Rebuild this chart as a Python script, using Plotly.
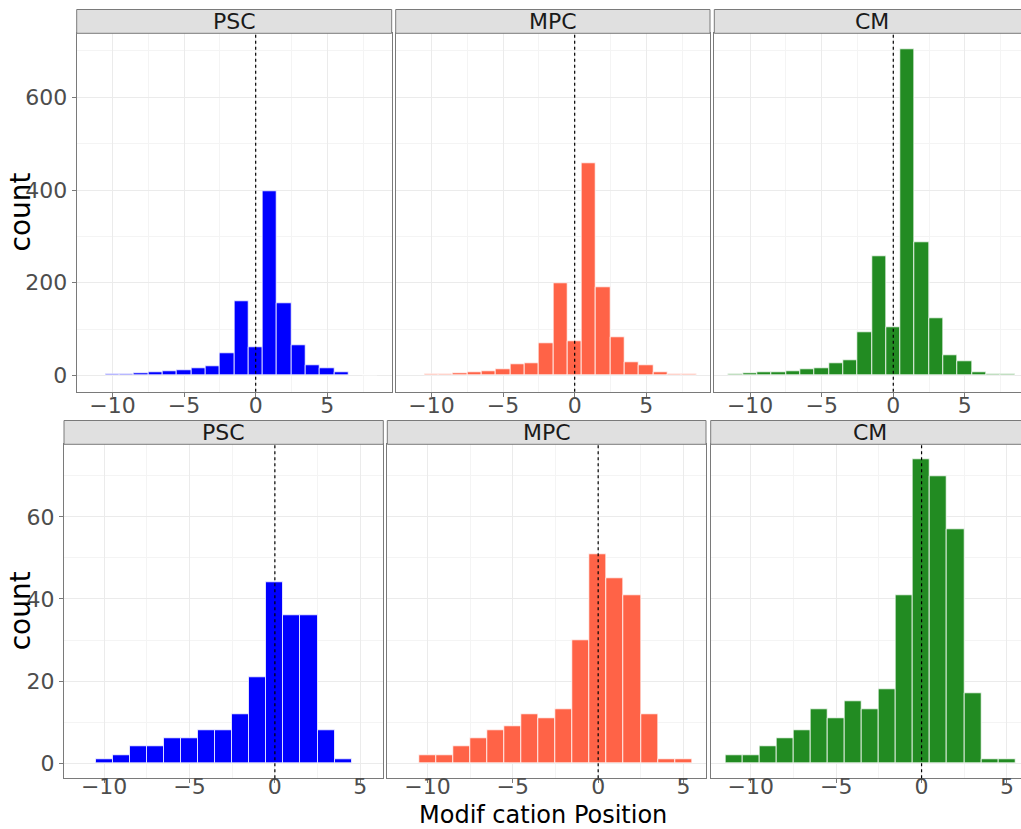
import plotly.graph_objects as go

# ---------------- data ----------------
panels = ["PSC", "MPC", "CM"]

top_psc_pos = list(range(-10, 7)) + [8]
top_psc_cnt = [3, 3, 4, 6, 8, 10, 15, 20, 47, 159, 60, 397, 155, 65, 21, 16, 6, 1]

top_mpc_pos = list(range(-10, 9))
top_mpc_cnt = [2, 2, 4, 6, 9, 14, 24, 27, 70, 198, 73, 457, 191, 82, 29, 22, 7, 2, 2]

top_cm_pos = list(range(-11, 9))
top_cm_cnt = [2, 5, 6, 6, 9, 14, 16, 27, 33, 92, 258, 104, 703, 288, 123, 43, 30, 7, 2, 2]

bot_psc_pos = list(range(-10, 5))
bot_psc_cnt = [1, 2, 4, 4, 6, 6, 8, 8, 12, 21, 44, 36, 36, 8, 1]

bot_mpc_pos = list(range(-10, 6))
bot_mpc_cnt = [2, 2, 4, 6, 8, 9, 12, 11, 13, 30, 51, 45, 41, 12, 1, 1]

bot_cm_pos = list(range(-11, 6))
bot_cm_cnt = [2, 2, 4, 6, 8, 13, 11, 15, 13, 18, 41, 74, 70, 57, 17, 1, 1]

x_ticks = [-10, -5, 0, 5]
x_title = "Modif cation Position"
y_title = "count"

# ---------------- style / layout ----------------
W, H = 1021, 829
colors = {"PSC": "#0000FF", "MPC": "#FF6347", "CM": "#228B22"}
FONT = "DejaVu Sans"
TICK_COLOR = "#4D4D4D"
BORDER = "#7A7A7A"
GRID = "#EBEBEB"
GRID_MINOR = "#F4F4F4"

# pixel boxes (left, right) for panels, (top, bottom) for rows
top_x_px = [(76.7, 391.7), (395.7, 710.0), (714.3, 1021.0)]
bot_x_px = [(64.0, 383.3), (387.3, 706.0), (710.7, 1021.0)]
top_y_px = (33.3, 391.7)
bot_y_px = (444.3, 778.3)
top_strip_px = (9.5, 33.3)
bot_strip_px = (420.5, 444.3)

top_full_range = (-12.5, 9.5)
bot_full_range = (-12.35, 6.35)


def px_dom_x(a, b):
    return [a / W, b / W]


def px_dom_y(t, b):
    return [1 - b / H, 1 - t / H]


rows = [
    dict(pos=[top_psc_pos, top_mpc_pos, top_cm_pos],
         cnt=[top_psc_cnt, top_mpc_cnt, top_cm_cnt],
         xpx=top_x_px, ypx=top_y_px, strip=top_strip_px,
         xfull=top_full_range, ydt=200, ymdt=100, lift=2),
    dict(pos=[bot_psc_pos, bot_mpc_pos, bot_cm_pos],
         cnt=[bot_psc_cnt, bot_mpc_cnt, bot_cm_cnt],
         xpx=bot_x_px, ypx=bot_y_px, strip=bot_strip_px,
         xfull=bot_full_range, ydt=20, ymdt=10, lift=7),
]

fig = go.Figure()
layout = {}
shapes = []
annotations = []

k = 0
for r, row in enumerate(rows):
    ymax = max(max(c) for c in row["cnt"])
    yrange = [-0.05 * ymax, 1.05 * ymax]
    ref_w = row["xpx"][0][1] - row["xpx"][0][0]
    unit_px = ref_w / (row["xfull"][1] - row["xfull"][0])
    ydom = px_dom_y(*row["ypx"])
    for i, name in enumerate(panels):
        k += 1
        xa = "x" if k == 1 else f"x{k}"
        ya = "y" if k == 1 else f"y{k}"
        xl = "xaxis" if k == 1 else f"xaxis{k}"
        yl = "yaxis" if k == 1 else f"yaxis{k}"
        lk = k + 6
        a, b = row["xpx"][i]
        xr = [row["xfull"][0], row["xfull"][0] + (b - a) / unit_px]
        fig.add_trace(go.Bar(
            x=row["pos"][i], y=row["cnt"][i], width=1.0,
            marker=dict(color=colors[name],
                        line=dict(color="rgba(255,255,255,0.75)", width=1)),
            xaxis=xa, yaxis=ya, showlegend=False, hoverinfo="x+y"))
        # invisible helper trace so the label-only axis gets drawn
        fig.add_trace(go.Scatter(
            x=[x_ticks[0]], y=[0], mode="markers",
            marker=dict(opacity=0, size=1), xaxis=f"x{lk}", yaxis=ya,
            showlegend=False, hoverinfo="skip"))
        is_cm = (i == 2)
        layout[xl] = dict(
            domain=px_dom_x(a, b), anchor=ya, range=xr,
            tickmode="array", tickvals=x_ticks,
            ticks="outside", ticklen=4, tickcolor=BORDER, tickwidth=1,
            showticklabels=False,
            showgrid=True, gridcolor=GRID, gridwidth=1,
            minor=dict(showgrid=True, gridcolor=GRID_MINOR, gridwidth=1,
                       tickvals=[-12.5, -7.5, -2.5, 2.5, 7.5]),
            showline=True, linecolor=BORDER, linewidth=1, mirror=True,
            zeroline=False, fixedrange=True,
        )
        # label-only overlay axis, lifted slightly toward the panel
        layout[f"xaxis{lk}"] = dict(
            domain=px_dom_x(a, b), overlaying=xa, anchor="free",
            position=ydom[0] + row["lift"] / H, range=xr, side="bottom",
            tickmode="array", tickvals=x_ticks, ticks="",
            tickfont=dict(family=FONT, size=22, color=TICK_COLOR),
            showgrid=False, showline=False, zeroline=False, fixedrange=True,
        )
        layout[yl] = dict(
            domain=ydom, anchor=xa, range=yrange,
            dtick=row["ydt"], tick0=0,
            ticks="outside" if i == 0 else "", ticklen=4,
            tickcolor=BORDER, tickwidth=1,
            showticklabels=(i == 0),
            tickfont=dict(family=FONT, size=22, color=TICK_COLOR),
            showgrid=True, gridcolor=GRID, gridwidth=1,
            minor=dict(showgrid=True, gridcolor=GRID_MINOR, gridwidth=1,
                       dtick=row["ymdt"], tick0=row["ymdt"]),
            showline=True, linecolor=BORDER, linewidth=1,
            mirror=(False if is_cm else True),
            zeroline=False, fixedrange=True,
        )
        # dotted reference line at 0
        shapes.append(dict(type="line", xref=xa, yref=f"{ya} domain",
                           x0=0, x1=0, y0=0, y1=1, layer="above",
                           line=dict(color="black", width=1.2, dash="dot")))
        # strip
        st, sb = row["strip"]
        sy = px_dom_y(st, sb)
        sx1 = b / W if not is_cm else 1.2
        shapes.append(dict(type="rect", xref="paper", yref="paper",
                           x0=a / W, x1=sx1, y0=sy[0], y1=sy[1],
                           fillcolor="#E0E0E0",
                           line=dict(color=BORDER, width=1), layer="above"))
        full_b = b if not is_cm else a + ref_w
        annotations.append(dict(text=name, xref="paper", yref="paper",
                                x=(a + full_b) / 2 / W,
                                y=(sy[0] + sy[1]) / 2, showarrow=False,
                                xanchor="center", yanchor="middle",
                                font=dict(family=FONT, size=22, color="#1A1A1A")))

    # y title per row
    t, bb = row["ypx"]
    annotations.append(dict(text=y_title, xref="paper", yref="paper",
                            x=20 / W, y=1 - ((t + bb) / 2) / H, textangle=-90,
                            showarrow=False, xanchor="center", yanchor="middle",
                            font=dict(family=FONT, size=28, color="black")))

annotations.append(dict(text=x_title, xref="paper", yref="paper",
                        x=543 / W, y=1 - 815 / H, showarrow=False,
                        xanchor="center", yanchor="middle",
                        font=dict(family=FONT, size=24, color="black")))

fig.update_layout(
    width=W, height=H,
    margin=dict(l=0, r=0, t=0, b=0),
    paper_bgcolor="white", plot_bgcolor="white",
    bargap=0, barmode="overlay",
    shapes=shapes, annotations=annotations,
    **layout,
)

fig.write_html("out.html")
